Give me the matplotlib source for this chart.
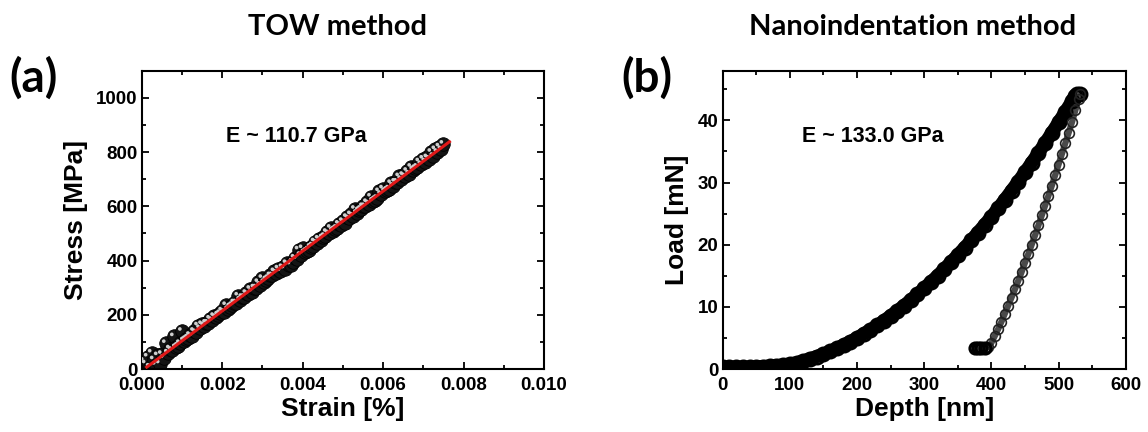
import matplotlib
matplotlib.use("Agg")
import matplotlib.pyplot as plt
from matplotlib.ticker import MultipleLocator
import matplotlib.transforms as mtransforms

# ---------------- data: panel (a) TOW method ----------------
strain_a = [0.0, 0.00005, 0.0001, 0.00015, 0.0002, 0.00025, 0.0003, 0.00035, 0.0004,
            0.00045, 0.0005, 0.00055, 0.0006, 0.00065, 0.0007, 0.00075, 0.0008, 0.00085,
            0.0009, 0.00095, 0.001, 0.00105, 0.0011, 0.00115, 0.0012, 0.00125, 0.0013,
            0.00135, 0.0014, 0.00145, 0.0015, 0.00155, 0.0016, 0.00165, 0.0017, 0.00175,
            0.0018, 0.00185, 0.0019, 0.00195, 0.002, 0.00205, 0.0021, 0.00215, 0.0022,
            0.00225, 0.0023, 0.00235, 0.0024, 0.00245, 0.0025, 0.00255, 0.0026, 0.00265,
            0.0027, 0.00275, 0.0028, 0.00285, 0.0029, 0.00295, 0.003, 0.00305, 0.0031,
            0.00315, 0.0032, 0.00325, 0.0033, 0.00335, 0.0034, 0.00345, 0.0035, 0.00355,
            0.0036, 0.00365, 0.0037, 0.00375, 0.0038, 0.00385, 0.0039, 0.00395, 0.004,
            0.00405, 0.0041, 0.00415, 0.0042, 0.00425, 0.0043, 0.00435, 0.0044, 0.00445,
            0.0045, 0.00455, 0.0046, 0.00465, 0.0047, 0.00475, 0.0048, 0.00485, 0.0049,
            0.00495, 0.005, 0.00505, 0.0051, 0.00515, 0.0052, 0.00525, 0.0053, 0.00535,
            0.0054, 0.00545, 0.0055, 0.00555, 0.0056, 0.00565, 0.0057, 0.00575, 0.0058,
            0.00585, 0.0059, 0.00595, 0.006, 0.00605, 0.0061, 0.00615, 0.0062, 0.00625,
            0.0063, 0.00635, 0.0064, 0.00645, 0.0065, 0.00655, 0.0066, 0.00665, 0.0067,
            0.00675, 0.0068, 0.00685, 0.0069, 0.00695, 0.007, 0.00705, 0.0071, 0.00715,
            0.0072, 0.00725, 0.0073, 0.00735, 0.0074, 0.00745, 0.0075]
stress_a = [5, 30, 20, 45, 8, 60, 35, 15, 50,
            20, 55, 40, 95, 60, 75, 70, 120, 80,
            85, 95, 140, 105, 110, 115, 125, 120, 140,
            135, 160, 150, 165, 160, 170, 170, 185, 180,
            195, 190, 200, 205, 215, 210, 235, 220, 230,
            235, 245, 245, 270, 255, 265, 265, 280, 275,
            295, 285, 300, 300, 320, 310, 335, 320, 330,
            335, 345, 345, 360, 355, 370, 360, 375, 370,
            390, 385, 385, 395, 410, 405, 440, 420, 445,
            430, 435, 440, 450, 455, 470, 465, 480, 475,
            485, 490, 505, 500, 520, 510, 515, 520, 535,
            530, 545, 540, 560, 555, 570, 565, 590, 575,
            585, 590, 600, 600, 615, 610, 635, 620, 625,
            630, 655, 645, 665, 655, 660, 665, 685, 675,
            690, 690, 710, 700, 715, 710, 730, 720, 745,
            735, 740, 745, 765, 755, 775, 765, 780, 775,
            800, 785, 810, 800, 820, 810, 830]
fit_strain = [0.000126, 0.00765]
fit_stress = [7, 838]

# ---------------- data: panel (b) Nanoindentation ----------------
depth_load = [0, 10, 20, 30, 40, 50, 60, 70, 80, 90, 100, 110, 120, 130, 140, 150,
              160, 170, 180, 190, 200, 210, 220, 230, 240, 250, 260, 270, 280, 290,
              300, 310, 320, 330, 340, 350, 360, 370, 380, 390, 400, 410, 420, 430,
              440, 450, 460, 470, 480, 490, 500, 510, 520, 525, 528, 532]
load_load = [0.3, 0.3, 0.3, 0.3, 0.3, 0.35, 0.4, 0.45, 0.55, 0.65, 0.8, 1.0, 1.3,
             1.65, 2.0, 2.4, 2.85, 3.35, 3.85, 4.4, 5.0, 5.65, 6.3, 7.0, 7.75,
             8.55, 9.35, 10.2, 11.1, 12.0, 13.0, 14.0, 15.0, 16.1, 17.2, 18.35,
             19.5, 20.7, 21.95, 23.2, 24.5, 25.85, 27.25, 28.7, 30.15, 31.65,
             33.2, 34.75, 36.35, 38.0, 39.67, 41.37, 43.11, 44.0, 44.2, 44.2]
depth_unload = [532, 530, 525, 520, 515, 510, 505, 500, 495, 490, 485, 480, 475, 470,
                465, 460, 455, 450, 445, 440, 435, 430, 425, 420, 415, 410, 405, 400,
                395, 390, 385, 380, 376]
load_unload = [44.2, 43.5, 41.6, 39.7, 38.0, 36.3, 34.6, 32.9, 31.2, 29.5, 27.9, 26.3,
               24.7, 23.1, 21.5, 20.0, 18.5, 17.1, 15.6, 14.2, 12.8, 11.5, 10.2, 8.9,
               7.6, 6.4, 5.3, 4.2, 3.5, 3.3, 3.3, 3.3, 3.4]

# ---------------- figure ----------------
W, H = 1148, 432
fig = plt.figure(figsize=(W / 100, H / 100), dpi=100)
label_font = dict(family="Liberation Sans", weight="bold", size=19)


def style_axes(ax):
    for s in ax.spines.values():
        s.set_linewidth(1.5)
    ax.tick_params(which="both", direction="in", top=True, right=True, width=1.3)
    ax.tick_params(which="major", length=5)
    ax.tick_params(axis="x", which="major", pad=6)
    ax.tick_params(axis="y", which="major", pad=3)
    ax.tick_params(which="minor", length=3)
    for lab in ax.get_xticklabels() + ax.get_yticklabels():
        lab.set_fontfamily("Liberation Sans")
        lab.set_fontweight("bold")
        lab.set_fontsize(13.5)


# Panel (a)
axa = fig.add_axes([141.7 / W, 1 - 369 / H, (544 - 141.7) / W, (369 - 70.7) / H])
axa.scatter(strain_a, stress_a, s=95, c="#141414", edgecolors="#000000",
            linewidths=0.6, zorder=2)
hl = mtransforms.offset_copy(axa.transData, fig=fig, x=-1.5, y=1.5, units="points")
axa.scatter(strain_a, stress_a, s=7, c="#cfcfcf", edgecolors="none",
            transform=hl, zorder=3)
axa.plot(fit_strain, fit_stress, color="#e01818", lw=2.2, zorder=4)
axa.set_xlim(0, 0.010)
axa.set_ylim(0, 1100)
axa.xaxis.set_minor_locator(MultipleLocator(0.001))
axa.yaxis.set_minor_locator(MultipleLocator(100))
axa.set_yticks([0, 200, 400, 600, 800, 1000])
axa.set_xticks([0, 0.002, 0.004, 0.006, 0.008, 0.010])
axa.set_xticklabels(["0.000", "0.002", "0.004", "0.006", "0.008", "0.010"])
axa.set_xlabel("Strain [%]", labelpad=2, **label_font)
axa.set_ylabel("Stress [MPa]", labelpad=6, **label_font)
axa.text(0.0021, 858, "E ~ 110.7 GPa", ha="left", va="center",
         family="Liberation Sans", weight="bold", size=15.5)
style_axes(axa)

# Panel (b)
axb = fig.add_axes([722.7 / W, 1 - 369 / H, (1125.7 - 722.7) / W, (369 - 70.7) / H])
axb.plot(depth_load, load_load, color="black", lw=9.5, solid_capstyle="round",
         solid_joinstyle="round", zorder=2)
axb.plot(depth_load, load_load, ls="none", marker="o", ms=9.5, mfc="none",
         mec="black", mew=2.0, zorder=3)
axb.plot(depth_unload, load_unload, color="#4a4a4a", lw=4.5, zorder=2)
axb.plot(depth_unload, load_unload, ls="none", marker="o", ms=7, mfc="none",
         mec="#222222", mew=1.2, zorder=3)
axb.plot(depth_unload[-4:], load_unload[-4:], ls="none", marker="o", ms=8,
         mfc="none", mec="black", mew=2.2, zorder=3)
axb.set_xlim(0, 600)
axb.set_ylim(0, 48)
axb.xaxis.set_major_locator(MultipleLocator(100))
axb.xaxis.set_minor_locator(MultipleLocator(50))
axb.yaxis.set_major_locator(MultipleLocator(10))
axb.yaxis.set_minor_locator(MultipleLocator(5))
axb.set_xlabel("Depth [nm]", labelpad=2, **label_font)
axb.set_ylabel("Load [mN]", labelpad=6, **label_font)
axb.text(117.6, 37.4, "E ~ 133.0 GPa", ha="left", va="center",
         family="Liberation Sans", weight="bold", size=15.5)
style_axes(axb)

# Titles and panel letters
fig.text(337 / W, 1 - 27 / H, "TOW method", ha="center", va="center",
         family="Lato", weight="bold", size=21)
fig.text(913 / W, 1 - 27 / H, "Nanoindentation method", ha="center", va="center",
         family="Lato", weight="bold", size=21)
fig.text(34 / W, 1 - 78 / H, "(a)", ha="center", va="center",
         family="Lato", weight="bold", size=33)
fig.text(647 / W, 1 - 78 / H, "(b)", ha="center", va="center",
         family="Lato", weight="bold", size=33)

fig.savefig("out.png", dpi=100)
